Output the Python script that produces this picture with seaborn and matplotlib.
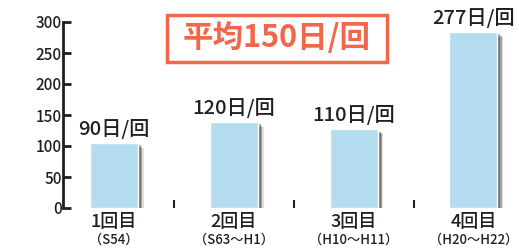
import matplotlib
matplotlib.use('Agg')
import matplotlib.pyplot as plt
import matplotlib.patheffects as pe
from matplotlib.patches import Rectangle
import seaborn as sns
import pandas as pd

# data
rounds = ['1回目', '2回目', '3回目', '4回目']
periods = ['（S54）', '（S63〜H1）', '（H10〜H11）', '（H20〜H22）']
bar_heights = [105, 139, 127, 284]
value_labels = ['90日/回', '120日/回', '110日/回', '277日/回']
yticks = [0, 50, 100, 150, 200, 250, 300]
average_label = '平均150日/回'

ink = '#231f20'
accent = '#f0674c'

sns.set_theme(style='white')
plt.rcParams['font.family'] = ['Noto Sans CJK JP', 'DejaVu Sans']
plt.rcParams['font.weight'] = 'medium'

df = pd.DataFrame({'round': rounds, 'height': bar_heights})

fig = plt.figure(figsize=(5.19, 2.5), dpi=100)
ax = fig.add_axes([63 / 519, 42 / 250, 456 / 519, 186 / 250])
sns.barplot(data=df, x='round', y='height', color='#b3dcee', saturation=1,
            width=0.4, ax=ax)

# soft drop shadow on the bars
shadow = [
    pe.SimplePatchShadow(offset=(4.2, -3.6), shadow_rgbFace='#222222', alpha=0.15),
    pe.SimplePatchShadow(offset=(3.2, -2.7), shadow_rgbFace='#222222', alpha=0.3),
    pe.SimplePatchShadow(offset=(2.2, -1.8), shadow_rgbFace='#222222', alpha=0.4),
]
for bar in ax.patches:
    bar.set_path_effects(shadow + [pe.Normal()])

ax.set_ylim(0, 300)
ax.set_xlim(-0.425, 3.38)
ax.set_xlabel('')
ax.set_ylabel('')
sns.despine(ax=ax, top=True, right=True, bottom=True)
ax.spines['left'].set_linewidth(2)
ax.spines['left'].set_color(ink)

ax.set_yticks(yticks)
ax.tick_params(axis='y', direction='in', length=6, width=2, color=ink,
               labelcolor=ink, labelsize=11, pad=1, left=True)
ax.set_xticks(range(len(rounds)))
ax.set_xticklabels([''] * len(rounds))
ax.set_xticks([0.5, 1.5, 2.5], minor=True)
ax.tick_params(axis='x', which='major', length=0)
ax.tick_params(axis='x', which='minor', direction='in', length=6, width=1.5,
               color=ink, bottom=True)

for i, (r, p) in enumerate(zip(rounds, periods)):
    ax.annotate(r, xy=(i, 0), xycoords=('data', 'axes fraction'),
                xytext=(0, -10), textcoords='offset points',
                ha='center', va='center', fontsize=13, color=ink)
    ax.annotate(p, xy=(i, 0), xycoords=('data', 'axes fraction'),
                xytext=(0, -23), textcoords='offset points',
                ha='center', va='center', fontsize=9.5, color=ink)

for i, (h, lab) in enumerate(zip(bar_heights, value_labels)):
    ax.annotate(lab, xy=(i, h), xytext=(0, 3), textcoords='offset points',
                ha='center', va='bottom', fontsize=14.5, color=ink,
                annotation_clip=False)

fig.patches.append(Rectangle((167 / 519, 1 - 62 / 250), 220 / 519, 47 / 250,
                             transform=fig.transFigure, fill=False,
                             edgecolor=accent, linewidth=2.5))
fig.text(277 / 519, 1 - 38 / 250, average_label, ha='center', va='center',
         fontsize=22, fontweight='bold', color=accent)

fig.savefig('out.png', dpi=100)
